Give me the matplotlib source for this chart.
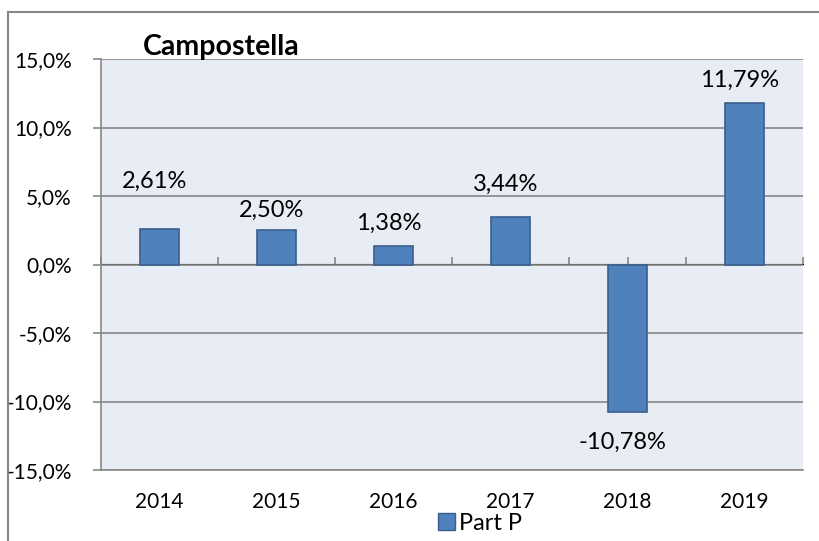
import numpy as np
import matplotlib
matplotlib.use('Agg')
import matplotlib.pyplot as plt
from matplotlib.lines import Line2D
from matplotlib.patches import Patch

years = ['2014', '2015', '2016', '2017', '2018', '2019']
part_p = [2.61, 2.50, 1.38, 3.44, -10.78, 11.79]
bar_labels = ['2,61%', '2,50%', '1,38%', '3,44%', '-10,78%', '11,79%']
# where Excel left each data label (value units, hand-placed in the original)
label_pos = [6.07, 3.95, 3.0, 5.85, -13.0, 13.45]

plt.rcParams['font.family'] = ['Lato', 'DejaVu Sans']

bar_color = '#4F81BD'
edge_color = '#3A5F8C'
grid_color = '#878787'

fig = plt.figure(figsize=(8.19, 5.41), dpi=100)
ax = fig.add_axes([101/819, 1 - 470/541, (803 - 101)/819, (470 - 59)/541])
ax.set_facecolor('#E8ECF4')

x = np.arange(len(years))
ax.bar(x, part_p, width=0.34, color=bar_color, edgecolor=edge_color, linewidth=1.2, zorder=3)

for xi, lab, pos in zip(x, bar_labels, label_pos):
    ax.text(xi - 0.04, pos, lab, ha='center', va='center', fontsize=17, zorder=4)

ax.set_xlim(-0.5, len(years) - 0.5)
ax.set_ylim(-15, 15)
yt = np.arange(-15, 16, 5)
ax.set_yticks(yt)
ax.set_yticklabels(['{:.1f}%'.format(v).replace('.', ',') for v in yt], fontsize=15)
ax.set_xticks(x)
ax.set_xticklabels(years, fontsize=15)
ax.tick_params(axis='x', length=0, pad=16)
ax.tick_params(axis='y', length=6, color=grid_color, width=1.2, pad=15)
ax.grid(axis='y', color=grid_color, linewidth=1.2, zorder=1)
for side in ['top', 'right']:
    ax.spines[side].set_visible(False)
for side in ['left', 'bottom']:
    ax.spines[side].set_color(grid_color)
    ax.spines[side].set_linewidth(1.2)

# category tick marks sit on the zero line
sec = ax.secondary_xaxis(0.5)
sec.set_xticks(np.arange(-0.5, len(years), 1.0), labels=[''] * (len(years) + 1))
sec.set_xticks(x, labels=[''] * len(years), minor=True)
sec.tick_params(which='both', direction='out', length=5, color=grid_color, width=1.2)
sec.spines['bottom'].set_visible(False)

fig.text(143/819, 1 - 47/541, 'Campostella', fontsize=20.5, fontweight='bold', va='center', ha='left')

fig.legend(handles=[Patch(facecolor=bar_color, edgecolor=edge_color, label='Part P')],
           loc='center left', bbox_to_anchor=(424/819, 1 - 523/541), frameon=False,
           fontsize=17, handlelength=0.7, handleheight=0.7, handletextpad=0.2,
           borderpad=0.1)

# chart frame (cropped on right and bottom)
fig.add_artist(Line2D([8/819, 1], [1 - 12/541, 1 - 12/541], color=grid_color, lw=1.5))
fig.add_artist(Line2D([8/819, 8/819], [0, 1 - 12/541], color=grid_color, lw=1.5))

fig.savefig('out.png', dpi=100)
